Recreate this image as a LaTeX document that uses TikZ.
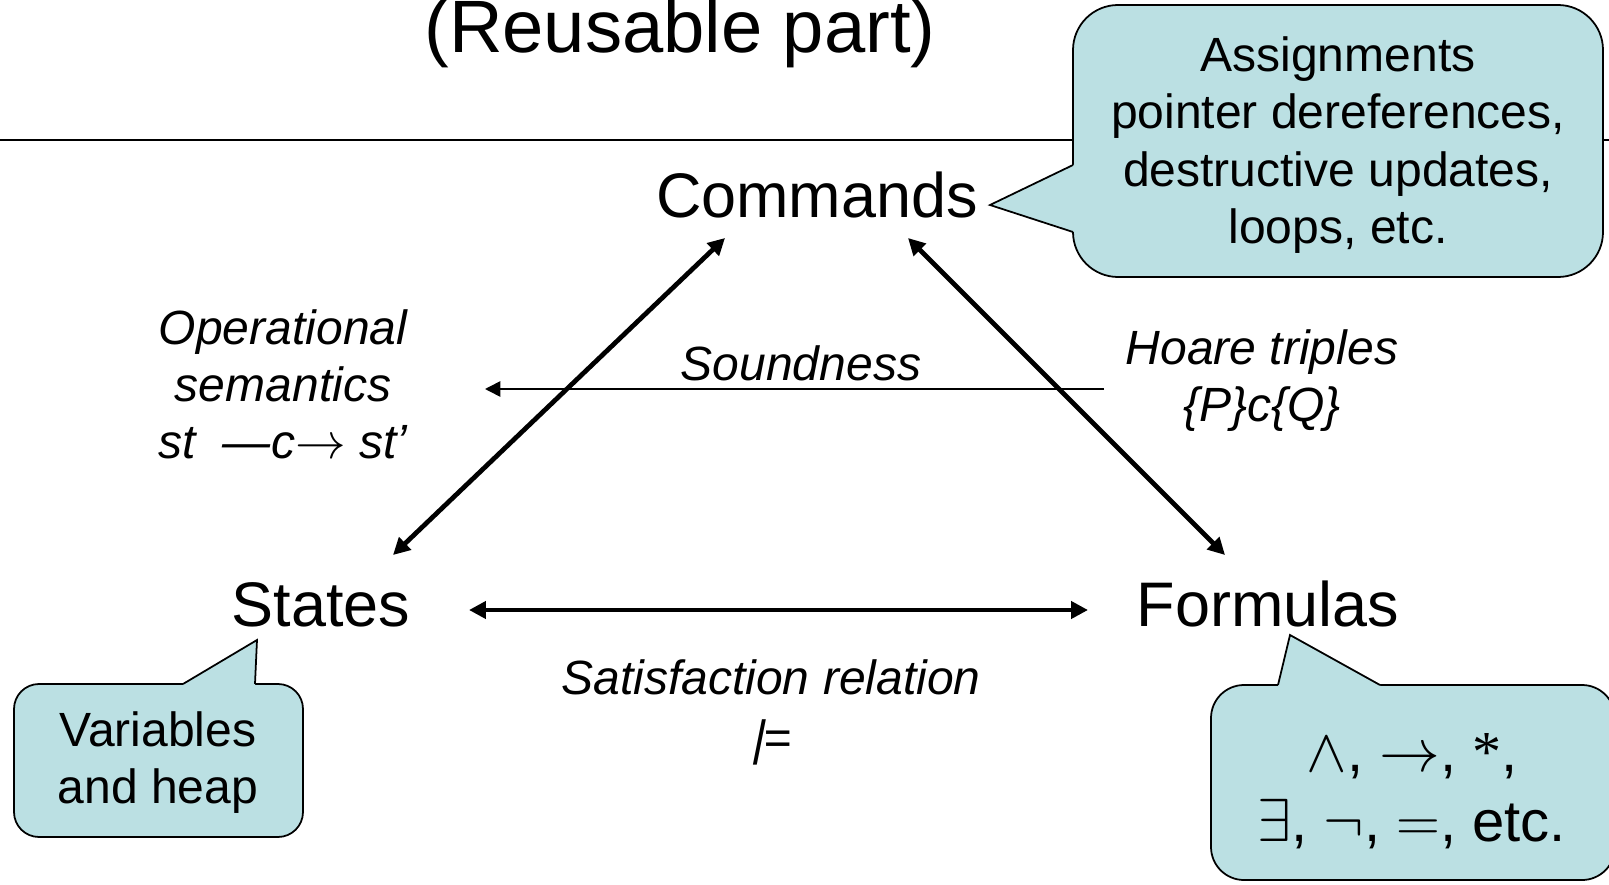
\documentclass[tikz,border=0pt]{standalone}
\usepackage{fontspec}
\setmainfont{Liberation Sans}
\newfontfamily\serifast{Liberation Serif}
\usetikzlibrary{arrows.meta}
\definecolor{bubblefill}{HTML}{BBE0E3}

\begin{document}
\begin{tikzpicture}[x=0.01cm, y=-0.01cm]
        \tikzset{
            big/.style={font=\fontsize{17.9}{21.5}\selectfont, inner sep=0pt, anchor=base},
            lbl/.style={font=\fontsize{13.66}{#1}\selectfont\itshape, align=center, inner sep=0pt, anchor=base},
            bubtxt/.style={font=\fontsize{13.66}{#1}\selectfont, align=center, inner sep=0pt, anchor=base},
            bubble/.style={draw=black, fill=bubblefill, line width=0.5pt},
            dbl/.style={{Triangle[length=4.8pt,width=4.8pt]}-{Triangle[length=4.8pt,width=4.8pt]}, line width=1.35pt},
            sgl/.style={-{Triangle[length=4.4pt,width=4.4pt]}, line width=0.45pt}}

        \useasboundingbox (0,0) rectangle (1609,885);

        \node[inner sep=0pt, anchor=base, font=\fontsize{21.1}{25}\selectfont] (title) at (680,53) {(Reusable part)};
        \draw[line width=0.5pt] (0,140) -- (1609,140);

        % callouts
        \draw[bubble, rounded corners=0.45cm] (1073,5) rectangle (1603,277);
        \fill[bubblefill] (1073,165) -- (990,205) -- (1073,232) -- (1078,232) -- (1078,165) -- cycle;
        \draw[line width=0.5pt] (1073,165) -- (990,205) -- (1073,232);

        \draw[bubble, rounded corners=0.25cm] (14,684) rectangle (303,837);
        \fill[bubblefill] (183,684) -- (257,640) -- (255,684) -- (255,689) -- (183,689) -- cycle;
        \draw[line width=0.5pt] (183,684) -- (257,640) -- (255,684);

        \draw[bubble, rounded corners=0.33cm] (1211,685) rectangle (1615,880);
        \fill[bubblefill] (1278,685) -- (1290,635) -- (1380,685) -- (1380,690) -- (1278,690) -- cycle;
        \draw[line width=0.5pt] (1278,685) -- (1290,635) -- (1380,685);

        % last line baselines
        \node[bubtxt=16.36pt] (cmdnote) at (1338,244) {Assignments\\pointer dereferences,\\destructive updates,\\loops, etc.};
        \node[bubtxt=16.1pt] (statenote) at (158,803) {Variables\\and heap};
        \node[bubtxt=19.9pt, font=\fontsize{16.5}{19.9}\selectfont] (formnote) at (1412,841)
            {$\wedge$, $\rightarrow$, {\serifast *},\\$\exists$, $\neg$, $=$, etc.};

        % main nodes
        \node[big] (commands) at (817,218) {Commands};
        \node[big] (states) at (321,626) {States};
        \node[big] (formulas) at (1268,626) {Formulas};

        \node[lbl=16.08pt] (opsem) at (283,458) {Operational\\semantics\\st~~—c$\rightarrow$ st’};
        \node[lbl=16.2pt] (hoare) at (1262,421) {Hoare triples\\\{P\}c\{Q\}};
        \node[lbl=16.8pt] (sat) at (771,754) {Satisfaction relation\\{\addfontfeature{FakeSlant=0.2}|}=};
        \node[lbl=16pt] (sound) at (801,380) {Soundness};

        \coordinate (sc1) at (393,555);
        \coordinate (sc2) at (725,238);
        \coordinate (cf1) at (908,238);
        \coordinate (cf2) at (1225,555);
        \coordinate (sf1) at (469,610);
        \coordinate (sf2) at (1088,610);
        \coordinate (snd1) at (1104,389);
        \coordinate (snd2) at (485,389);

        \foreach \a/\b in {sc1/sc2, cf1/cf2, sf1/sf2}
            \draw[dbl] (\a) -- (\b);
        \draw[sgl] (snd1) -- (snd2);

    \end{tikzpicture}
\end{document}
